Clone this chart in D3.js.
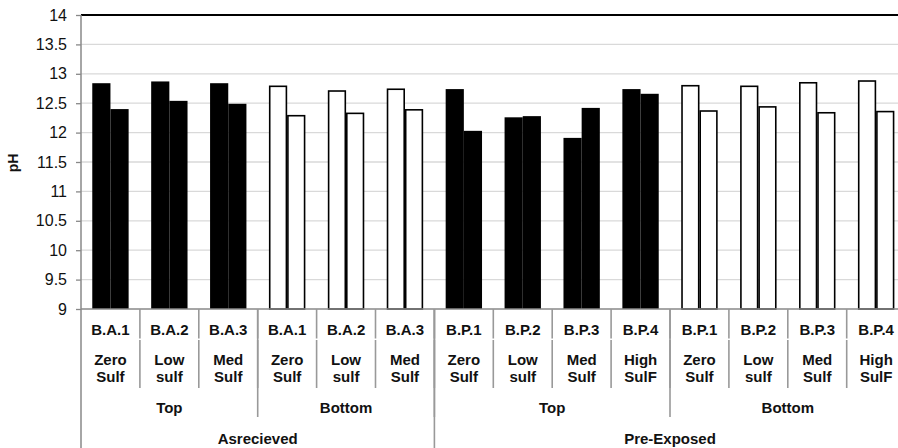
<!DOCTYPE html>
<html>
<head>
<meta charset="utf-8">
<script src="https://cdn.jsdelivr.net/npm/d3@7"></script>
<style>
  html, body { margin: 0; padding: 0; background: #fff; }
  svg { display: block; font-family: "Liberation Sans", Arial, sans-serif; }
</style>
</head>
<body>
<svg id="chart" width="898" height="448"></svg>
<script>
// Sample identifiers, one per bar pair
const sampleCodes = ["B.A.1", "B.A.2", "B.A.3", "B.A.1", "B.A.2", "B.A.3",
                     "B.P.1", "B.P.2", "B.P.3", "B.P.4", "B.P.1", "B.P.2", "B.P.3", "B.P.4"];
// Sulfate dosage, drawn on two lines
const sulfLevels = ["Zero Sulf", "Low sulf", "Med Sulf", "Zero Sulf", "Low sulf", "Med Sulf",
                    "Zero Sulf", "Low sulf", "Med Sulf", "High SulF",
                    "Zero Sulf", "Low sulf", "Med Sulf", "High SulF"];
// Location within the specimen
const locations = ["Top", "Top", "Top", "Bottom", "Bottom", "Bottom",
                   "Top", "Top", "Top", "Top", "Bottom", "Bottom", "Bottom", "Bottom"];
// Exposure condition
const conditions = ["Asrecieved", "Asrecieved", "Asrecieved", "Asrecieved", "Asrecieved", "Asrecieved",
                    "Pre-Exposed", "Pre-Exposed", "Pre-Exposed", "Pre-Exposed",
                    "Pre-Exposed", "Pre-Exposed", "Pre-Exposed", "Pre-Exposed"];
// pH readings: first and second measurement of each sample
const phFirst  = [12.84, 12.87, 12.84, 12.80, 12.72, 12.75, 12.74, 12.26, 11.91, 12.74, 12.81, 12.80, 12.86, 12.89];
const phSecond = [12.40, 12.54, 12.49, 12.30, 12.34, 12.40, 12.03, 12.28, 12.42, 12.66, 12.38, 12.45, 12.35, 12.37];
const yTicks = [9, 9.5, 10, 10.5, 11, 11.5, 12, 12.5, 13, 13.5, 14];

(function draw() {
  const svg = d3.select("#chart");
  const plotLeft = 81, plotTop = 15, plotBottom = 309;
  const groupStep = 58.9;
  const plotRight = plotLeft + groupStep * sampleCodes.length;

  const idx = d3.range(sampleCodes.length);
  const x = d3.scaleBand().domain(idx).range([plotLeft, plotRight]).padding(0);
  const xs = d3.scaleBand().domain([0, 1]).range([0, x.bandwidth()]).paddingInner(0).paddingOuter(0.62);
  const y = d3.scaleLinear().domain([9, 14]).range([plotBottom, plotTop]);

  // Gridlines
  svg.append("g").selectAll("line").data(yTicks.filter(t => t > 9 && t < 14)).join("line")
    .attr("x1", plotLeft).attr("x2", 898)
    .attr("y1", d => y(d)).attr("y2", d => y(d))
    .attr("stroke", "#d9d9d9").attr("stroke-width", 1.3);

  // Top border of plot area
  svg.append("line").attr("x1", plotLeft).attr("x2", 898).attr("y1", y(14)).attr("y2", y(14))
    .attr("stroke", "#000").attr("stroke-width", 2);

  // Bars
  const rows = idx.map(i => ({ i, vals: [phFirst[i], phSecond[i]], filled: locations[i] === "Top" }));
  const gBars = svg.append("g");
  rows.forEach(r => {
    r.vals.forEach((v, k) => {
      const x0 = x(r.i) + xs(k);
      if (r.filled) {
        gBars.append("rect")
          .attr("x", x0).attr("y", y(v))
          .attr("width", xs.bandwidth()).attr("height", y(9) - y(v))
          .attr("fill", "#000");
      } else {
        gBars.append("rect")
          .attr("x", x0 + 0.75).attr("y", y(v) + 0.75)
          .attr("width", xs.bandwidth() - 1.5).attr("height", y(9) - y(v) - 0.75)
          .attr("fill", "#fff").attr("stroke", "#000").attr("stroke-width", 1.6);
      }
    });
  });

  // Y axis
  const yAxis = d3.axisLeft(y).tickValues(yTicks).tickSize(5).tickPadding(9)
    .tickFormat(d => d3.format("")(d));
  const gy = svg.append("g").attr("transform", `translate(${plotLeft},0)`).call(yAxis);
  gy.select(".domain").remove();
  gy.selectAll(".tick line").attr("stroke", "#888").attr("stroke-width", 1.3);
  gy.selectAll(".tick text").attr("font-size", 16).attr("fill", "#111")
    .attr("font-family", "Liberation Sans, Arial, sans-serif");
  svg.append("line").attr("x1", plotLeft).attr("x2", plotLeft).attr("y1", plotTop).attr("y2", 448)
    .attr("stroke", "#888").attr("stroke-width", 1.5);

  // Category axis line
  svg.append("line").attr("x1", plotLeft).attr("x2", 898).attr("y1", plotBottom).attr("y2", plotBottom)
    .attr("stroke", "#888").attr("stroke-width", 1.5);

  const gSep = svg.append("g").attr("stroke", "#999").attr("stroke-width", 1.6);
  // Separators between samples (first two label levels)
  idx.slice(1).forEach(i => {
    const xx = x(i);
    gSep.append("line").attr("x1", xx).attr("x2", xx).attr("y1", plotBottom).attr("y2", 338.5);
    gSep.append("line").attr("x1", xx).attr("x2", xx).attr("y1", 340).attr("y2", 388);
  });

  // Runs of equal labels, split also where the condition changes
  function spans(arr, splitByCondition) {
    const out = [];
    arr.forEach((v, i) => {
      const brk = i === 0 || v !== arr[i - 1] ||
        (splitByCondition && conditions[i] !== conditions[i - 1]);
      if (brk) out.push({ label: v, start: i, end: i });
      else out[out.length - 1].end = i;
    });
    return out;
  }
  const locSpans = spans(locations, true);
  const condSpans = spans(conditions, false);
  locSpans.slice(1).forEach(s => {
    const xx = x(s.start);
    gSep.append("line").attr("x1", xx).attr("x2", xx).attr("y1", plotBottom).attr("y2", 417);
  });
  condSpans.slice(1).forEach(s => {
    const xx = x(s.start);
    gSep.append("line").attr("x1", xx).attr("x2", xx).attr("y1", plotBottom).attr("y2", 448);
  });

  // Category labels
  const gLab = svg.append("g").attr("font-size", 15).attr("font-weight", "bold")
    .attr("fill", "#111").attr("text-anchor", "middle");
  idx.forEach(i => {
    const cx = x(i) + x.bandwidth() / 2;
    gLab.append("text").attr("x", cx).attr("y", 334.5).text(sampleCodes[i]);
    const parts = sulfLevels[i].split(" ");
    gLab.append("text").attr("x", cx).attr("y", 365).text(parts[0]);
    gLab.append("text").attr("x", cx).attr("y", 381.5).text(parts[1]);
  });
  locSpans.forEach(s => {
    const cx = (x(s.start) + x(s.end) + x.bandwidth()) / 2;
    gLab.append("text").attr("x", cx).attr("y", 413).text(s.label);
  });
  condSpans.forEach(s => {
    const cx = (x(s.start) + x(s.end) + x.bandwidth()) / 2;
    gLab.append("text").attr("x", cx).attr("y", 443.5).text(s.label);
  });

  // Y axis title
  svg.append("text")
    .attr("transform", "translate(18,163) rotate(-90)")
    .attr("text-anchor", "middle").attr("font-size", 14).attr("font-weight", "bold")
    .attr("fill", "#111").text("pH");
})();
</script>
</body>
</html>
